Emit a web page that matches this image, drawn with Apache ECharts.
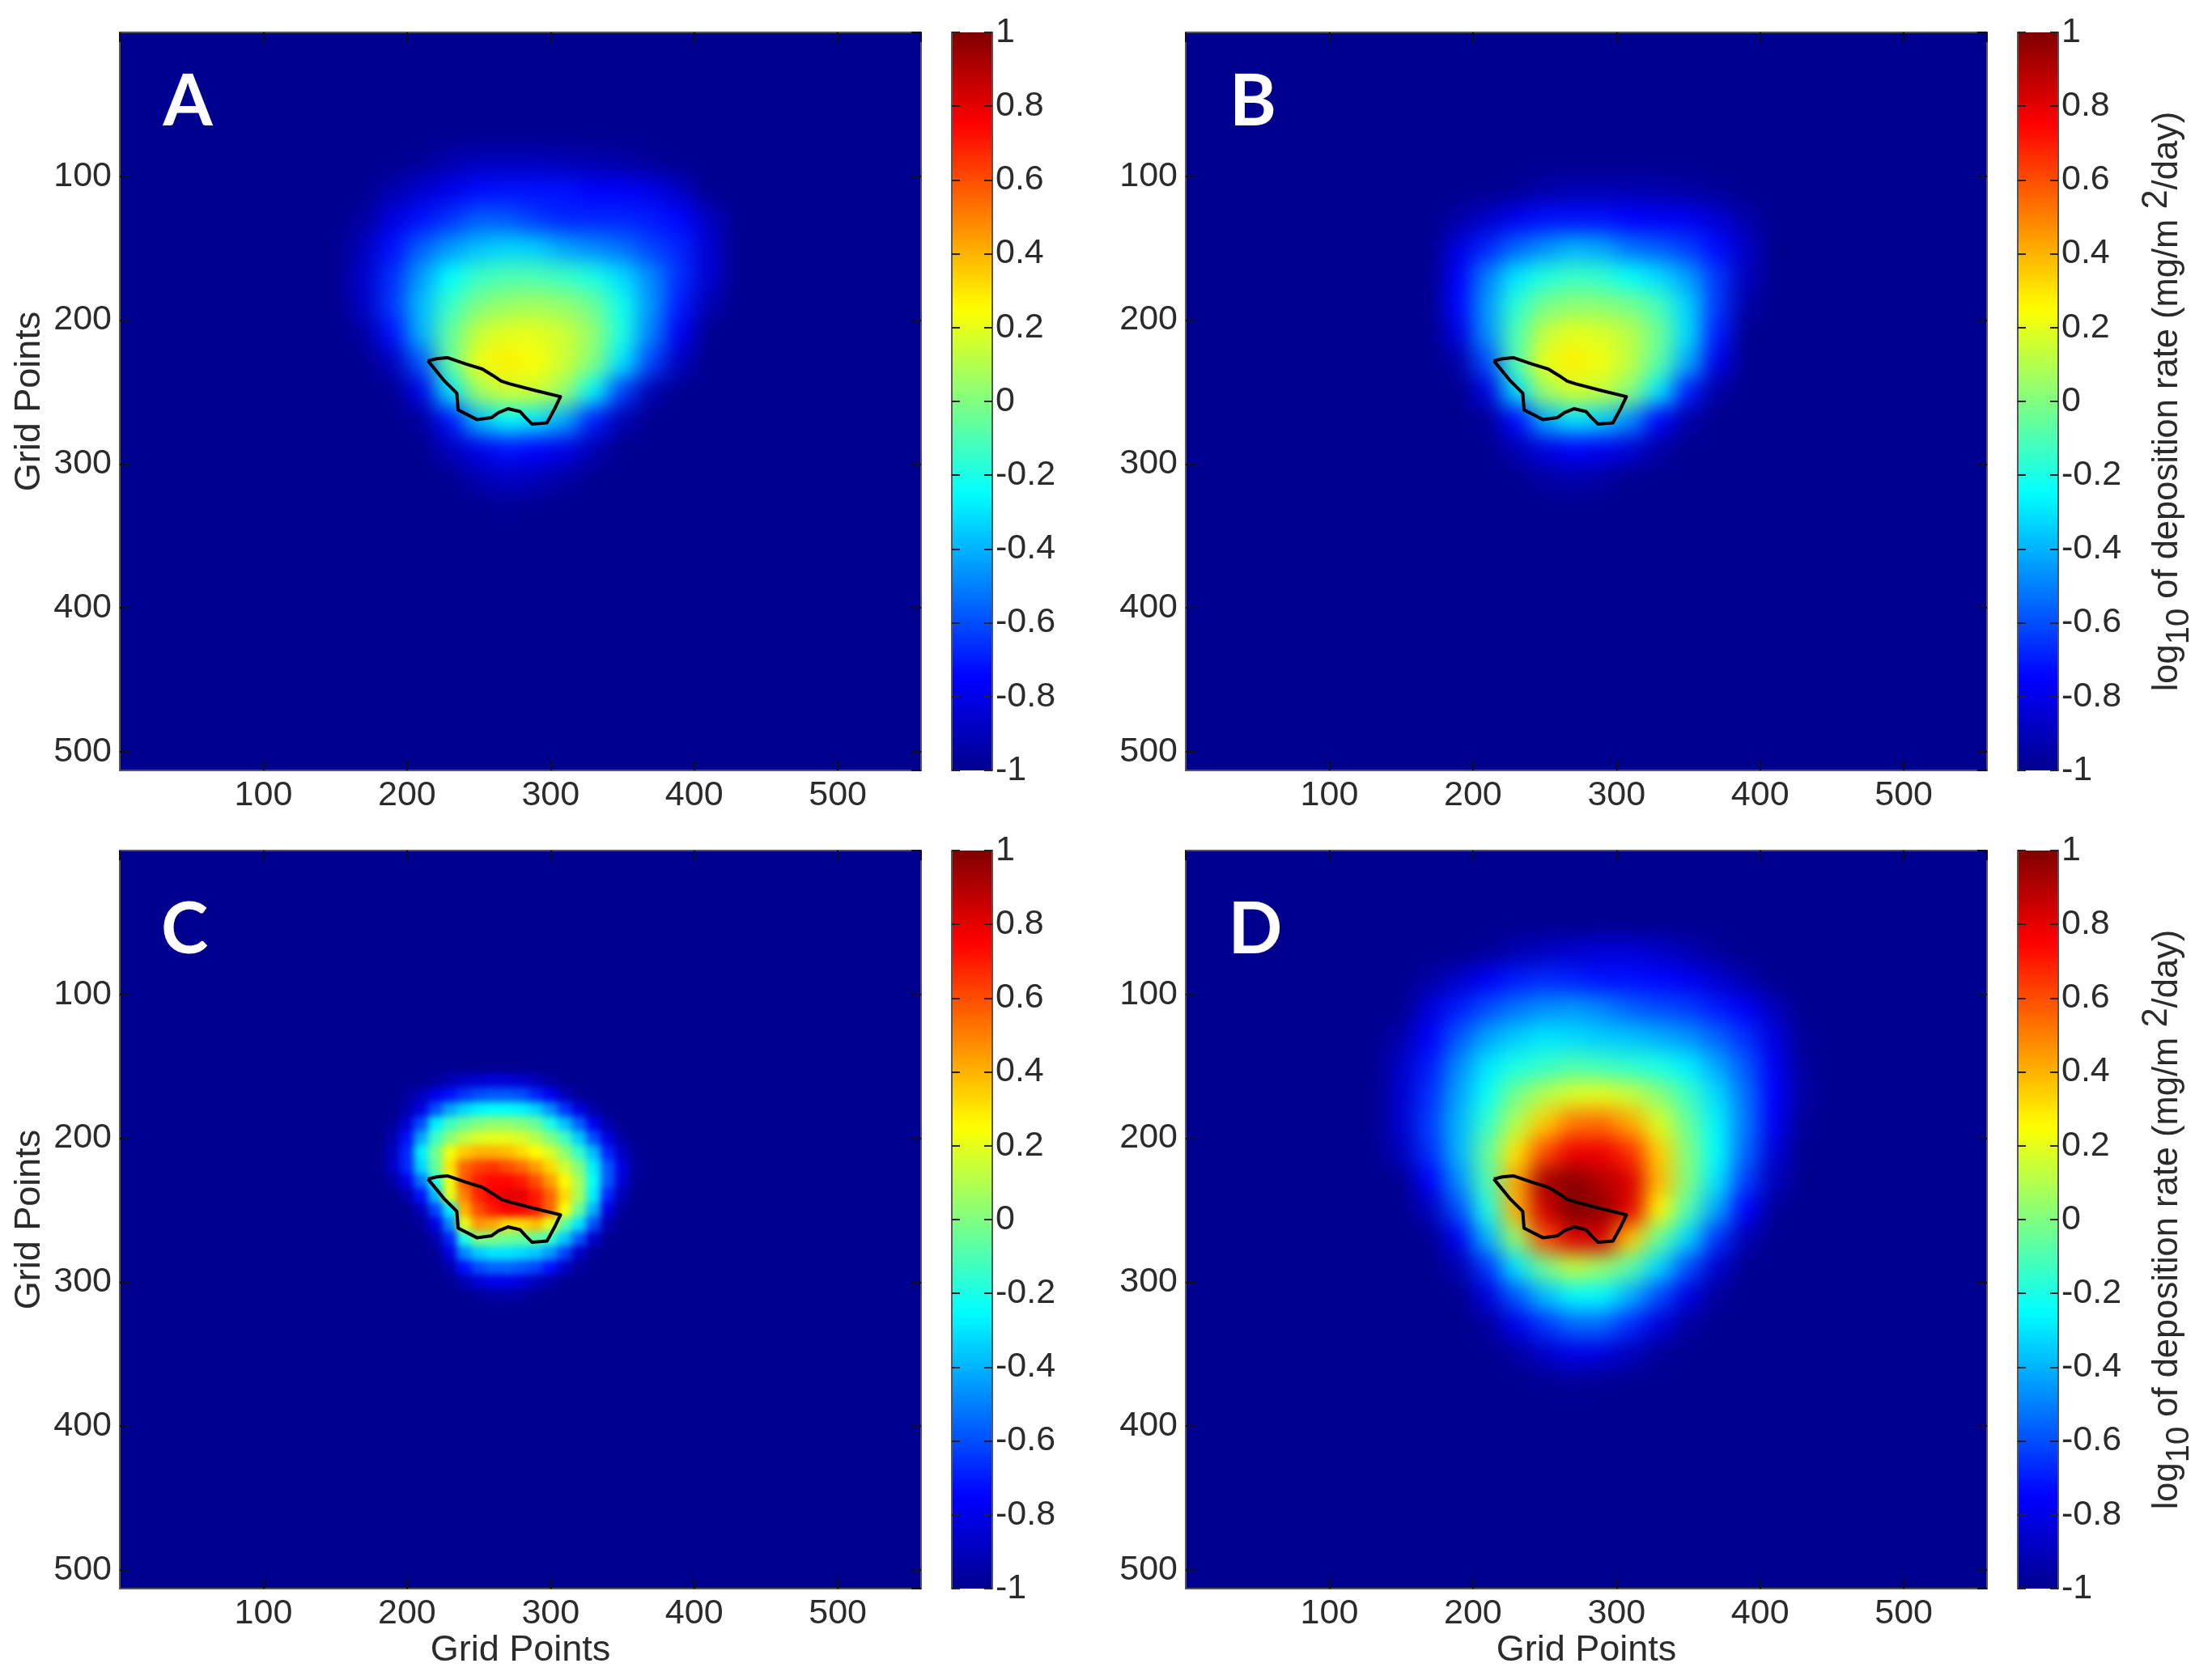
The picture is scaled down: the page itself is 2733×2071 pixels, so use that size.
<!DOCTYPE html>
<html><head><meta charset="utf-8">
<style>
html,body{margin:0;padding:0;background:#fff}
#c{width:2733px;height:2071px}
canvas[data-zr-dom-id="zr_1"]{filter:blur(13px)}
canvas[data-zr-dom-id="zr_2"]{filter:blur(5px)}
canvas[data-zr-dom-id="zr_3"]{filter:blur(.7px)}
</style>
<script src="https://cdn.jsdelivr.net/npm/echarts@6/dist/echarts.min.js"></script>
</head><body><div id="c"></div>
<script>
const xCells=[150,170,190,210,230,250,270,290,310,330,350,370,390,410,430];
const yCells=[70,90,110,130,150,170,190,210,230,250,270,290,310,330,350,370];
const xCellsC=[190,200,210,220,230,240,250,260,270,280,290,300,310,320,330,340,350,360];
const yCellsC=[160,170,180,190,200,210,220,230,240,250,260,270,280,290,300,310];
const panelA=[
[-1,-1,-1,-1,-1,-1,-1,-1,-1,-1,-1,-1,-1,-1,-1],
[-1,-1,-1,-.98,-.93,-.9,-.9,-.9,-.92,-.93,-.95,-.98,-1,-1,-1],
[-1,-1,-.93,-.86,-.8,-.73,-.72,-.72,-.72,-.76,-.76,-.8,-.88,-1,-1],
[-1,-.96,-.82,-.72,-.65,-.57,-.58,-.64,-.68,-.68,-.68,-.7,-.74,-.88,-1],
[-1,-.9,-.72,-.56,-.45,-.37,-.33,-.35,-.43,-.48,-.53,-.62,-.68,-.85,-1],
[-1,-.87,-.66,-.44,-.25,-.14,-.1,-.1,-.14,-.2,-.32,-.48,-.66,-.85,-1],
[-1,-.88,-.64,-.38,-.14,0,.05,.07,.04,-.04,-.22,-.46,-.7,-.92,-1],
[-1,-.96,-.72,-.4,-.06,.14,.2,.2,.15,.04,-.2,-.5,-.78,-1,-1],
[-1,-1,-.9,-.58,-.06,.22,.28,.24,.15,0,-.3,-.62,-.9,-1,-1],
[-1,-1,-1,-.8,-.3,.06,.16,.15,.04,-.26,-.63,-.93,-1,-1,-1],
[-1,-1,-1,-.97,-.72,-.38,-.25,-.3,-.42,-.7,-.92,-1,-1,-1,-1],
[-1,-1,-1,-1,-.9,-.8,-.72,-.75,-.8,-.92,-1,-1,-1,-1,-1],
[-1,-1,-1,-1,-1,-.92,-.88,-.9,-.95,-1,-1,-1,-1,-1,-1],
[-1,-1,-1,-1,-1,-1,-.98,-1,-1,-1,-1,-1,-1,-1,-1],
[-1,-1,-1,-1,-1,-1,-1,-1,-1,-1,-1,-1,-1,-1,-1],
[-1,-1,-1,-1,-1,-1,-1,-1,-1,-1,-1,-1,-1,-1,-1]];
const panelB=[
[-1,-1,-1,-1,-1,-1,-1,-1,-1,-1,-1,-1,-1,-1,-1],
[-1,-1,-1,-1,-1,-1,-1,-1,-1,-1,-1,-1,-1,-1,-1],
[-1,-1,-1,-1,-.98,-.94,-.92,-.92,-.92,-.93,-.95,-.98,-1,-1,-1],
[-1,-1,-.95,-.87,-.78,-.72,-.72,-.72,-.75,-.77,-.78,-.84,-.94,-1,-1],
[-1,-1,-.82,-.68,-.55,-.47,-.4,-.43,-.53,-.57,-.63,-.73,-.88,-1,-1],
[-1,-1,-.76,-.5,-.3,-.19,-.14,-.16,-.24,-.32,-.44,-.64,-.9,-1,-1],
[-1,-1,-.74,-.45,-.17,-.02,.03,.02,-.02,-.12,-.34,-.64,-.94,-1,-1],
[-1,-1,-.82,-.47,-.1,.13,.2,.18,.11,-.04,-.32,-.7,-1,-1,-1],
[-1,-1,-.95,-.6,-.1,.21,.28,.22,.12,-.08,-.42,-.8,-1,-1,-1],
[-1,-1,-1,-.82,-.32,.05,.16,.13,.01,-.3,-.7,-.96,-1,-1,-1],
[-1,-1,-1,-.98,-.74,-.42,-.3,-.35,-.48,-.75,-.95,-1,-1,-1,-1],
[-1,-1,-1,-1,-.92,-.82,-.75,-.78,-.84,-.95,-1,-1,-1,-1,-1],
[-1,-1,-1,-1,-1,-.95,-.93,-.95,-1,-1,-1,-1,-1,-1,-1],
[-1,-1,-1,-1,-1,-1,-1,-1,-1,-1,-1,-1,-1,-1,-1],
[-1,-1,-1,-1,-1,-1,-1,-1,-1,-1,-1,-1,-1,-1,-1],
[-1,-1,-1,-1,-1,-1,-1,-1,-1,-1,-1,-1,-1,-1,-1]];
const panelC=[
[-1,-1,-1,-.97,-.92,-.88,-.85,-.84,-.84,-.86,-.9,-.96,-1,-1,-1,-1,-1,-1],
[-1,-.97,-.9,-.8,-.72,-.65,-.6,-.58,-.58,-.6,-.68,-.78,-.9,-.98,-1,-1,-1,-1],
[-1,-.93,-.82,-.6,-.43,-.33,-.27,-.25,-.25,-.27,-.33,-.47,-.65,-.82,-.95,-1,-1,-1],
[-.97,-.85,-.6,-.28,-.13,-.05,0,.03,.03,0,-.05,-.2,-.37,-.56,-.78,-.93,-1,-1],
[-.93,-.72,-.42,-.13,.02,.12,.18,.2,.2,.17,.1,0,-.13,-.35,-.6,-.82,-.95,-1],
[-.9,-.68,-.28,-.03,.22,.35,.4,.4,.38,.32,.25,.17,.03,-.15,-.38,-.68,-.88,-.98],
[-.88,-.68,-.33,-.05,.3,.55,.62,.65,.6,.54,.44,.32,.15,0,-.28,-.58,-.82,-.97],
[-.95,-.8,-.52,-.2,.22,.58,.7,.74,.74,.7,.6,.44,.26,.07,-.24,-.58,-.84,-.98],
[-1,-.93,-.72,-.38,.2,.5,.68,.76,.8,.8,.7,.55,.32,.07,-.28,-.68,-.92,-1],
[-1,-1,-.9,-.62,-.28,.4,.6,.7,.76,.76,.7,.55,.24,-.05,-.4,-.82,-.97,-1],
[-1,-1,-.97,-.82,-.48,.2,.45,.42,.32,.32,.38,.2,-.08,-.3,-.6,-.93,-1,-1],
[-1,-1,-1,-.93,-.68,-.2,0,0,-.03,-.05,-.07,-.15,-.35,-.58,-.87,-1,-1,-1],
[-1,-1,-1,-.98,-.82,-.48,-.35,-.3,-.3,-.32,-.36,-.45,-.62,-.88,-.98,-1,-1,-1],
[-1,-1,-1,-1,-.93,-.72,-.6,-.55,-.55,-.58,-.62,-.72,-.88,-.97,-1,-1,-1,-1],
[-1,-1,-1,-1,-.99,-.92,-.85,-.8,-.8,-.83,-.9,-.95,-1,-1,-1,-1,-1,-1],
[-1,-1,-1,-1,-1,-1,-.98,-.95,-.95,-.96,-.99,-1,-1,-1,-1,-1,-1,-1]];
const panelD=[
[-1,-1,-1,-.98,-.93,-.89,-.86,-.84,-.84,-.87,-.92,-.97,-1,-1,-1],
[-1,-.95,-.87,-.77,-.7,-.67,-.69,-.72,-.72,-.74,-.78,-.85,-.93,-1,-1],
[-1,-.83,-.7,-.6,-.52,-.47,-.45,-.49,-.56,-.6,-.63,-.7,-.77,-.9,-1],
[-.93,-.76,-.58,-.43,-.35,-.3,-.32,-.35,-.37,-.41,-.46,-.55,-.66,-.82,-.98],
[-.88,-.7,-.48,-.3,-.2,-.15,-.1,-.13,-.16,-.2,-.28,-.42,-.58,-.78,-.97],
[-.86,-.66,-.43,-.23,-.02,.1,.18,.2,.14,.02,-.13,-.32,-.53,-.76,-.95],
[-.86,-.63,-.4,-.15,.1,.35,.52,.54,.42,.18,-.05,-.27,-.52,-.77,-.98],
[-.9,-.66,-.4,-.06,.3,.6,.78,.78,.66,.34,0,-.25,-.55,-.84,-1],
[-1,-.76,-.47,-.1,.42,.92,.98,.9,.82,.38,0,-.3,-.63,-.9,-1],
[-1,-.9,-.6,-.2,.4,.84,1,.96,.8,.26,-.1,-.43,-.75,-.98,-1],
[-1,-1,-.78,-.4,.04,.6,.82,.82,.35,-.05,-.33,-.65,-.92,-1,-1],
[-1,-1,-.93,-.65,-.3,-.03,.13,.05,-.08,-.33,-.6,-.86,-1,-1,-1],
[-1,-1,-1,-.83,-.58,-.38,-.26,-.26,-.41,-.61,-.82,-.97,-1,-1,-1],
[-1,-1,-1,-.97,-.8,-.65,-.55,-.55,-.67,-.83,-.96,-1,-1,-1,-1],
[-1,-1,-1,-1,-.96,-.87,-.8,-.82,-.9,-.98,-1,-1,-1,-1,-1],
[-1,-1,-1,-1,-1,-.99,-.98,-.99,-1,-1,-1,-1,-1,-1,-1]];
const outlineX=[214.6,220.6,228.1,241.2,252.5,260,265.6,271.2,288.1,306.9,303.1,297.5,287.2,282.5,278.7,270.3,263.7,259,248.7,235.6,234.7,226.2,214.6];
const outlineY=[228.3,226.8,226.1,230.6,234,238.6,242.4,244.2,248.6,253.2,261.1,271.4,272.3,267.7,263.5,261.6,264.3,267.7,269.1,262.4,250.8,242.4,228.3];
const panelLetters=['A','B','C','D'];
const panelValues=[panelA,panelB,panelC,panelD];
const panelXs=[xCells,xCells,xCellsC,xCells];
const panelYs=[yCells,yCells,yCellsC,yCells];
const jetColors=['#00008F','#0000FF','#0080FF','#00FFFF','#80FF80','#FFFF00','#FF8000','#FF0000','#800000'];
const axisTitle='Grid Points';

const FS=43, TFS=45, INK='#2b2b2b', FRAME='#555', TOP=3;
const PW=990, PH=912, CW=50;
const lefts=[148,1465], tops=[40,1051];
const letterPos=[[232,127],[1548,127],[228,1150],[1551,1150]];
const font='"Liberation Sans",Arial,sans-serif';

const grid=[],xAxis=[],yAxis=[],series=[],visualMap=[],title=[];
function plotAxis(base,extra){return Object.assign({type:'value',zlevel:TOP,splitLine:{show:false},
  axisLine:{show:true,onZero:false,lineStyle:{color:FRAME,width:2}},
  axisTick:{show:true,inside:true,length:12,lineStyle:{color:'#111',width:2}},
  axisLabel:{show:false}},base,extra||{});}
const labelOn={show:true,color:INK,fontSize:FS,fontFamily:font,showMinLabel:false,showMaxLabel:false,margin:10,
  formatter:v=>(v%100===0&&v>0)?String(v):''};

panelLetters.forEach((L,i)=>{
  const col=i%2,row=i>>1,left=lefts[col],top=tops[row];
  const g=grid.length;
  grid.push({left,top,width:PW,height:PH,show:true,backgroundColor:'#00008F',borderWidth:0});
  const xb={gridIndex:g,min:0,max:558,interval:100};
  const x0=xAxis.length;
  xAxis.push(plotAxis(xb,Object.assign({position:'bottom',axisLabel:labelOn},row===1?{name:axisTitle,nameLocation:'middle',nameGap:54,nameTextStyle:{color:INK,fontSize:TFS,fontFamily:font}}:{})));
  xAxis.push(plotAxis(xb,{position:'top'}));
  const yb={gridIndex:g,min:0,max:513,interval:100,inverse:true};
  const y0=yAxis.length;
  yAxis.push(plotAxis(yb,Object.assign({position:'left',axisLabel:labelOn},col===0?{name:axisTitle,nameLocation:'middle',nameGap:89,nameRotate:90,nameTextStyle:{color:INK,fontSize:TFS,fontFamily:font}}:{})));
  yAxis.push(plotAxis(yb,{position:'right'}));

  const xs=panelXs[i], ys=panelYs[i], half=(xs[1]-xs[0])/2, data=[];
  panelValues[i].forEach((r,ry)=>r.forEach((v,cx)=>{if(v>-1)data.push([xs[cx],ys[ry],v]);}));
  series.push({type:'custom',name:L,xAxisIndex:x0,yAxisIndex:y0,zlevel:half===5?2:1,data,clip:true,animation:false,progressive:0,silent:true,
    encode:{x:0,y:1},
    renderItem(params,api){
      const a=api.coord([api.value(0)-half,api.value(1)-half]),b=api.coord([api.value(0)+half,api.value(1)+half]);
      return {type:'rect',shape:{x:Math.min(a[0],b[0])-.5,y:Math.min(a[1],b[1])-.5,width:Math.abs(b[0]-a[0])+1,height:Math.abs(b[1]-a[1])+1},style:{fill:api.visual('color')}};
    }});

  const cLeft=left+1028;
  visualMap.push({type:'continuous',min:-1,max:1,dimension:2,seriesIndex:i,left:cLeft,top,itemWidth:CW,itemHeight:PH,padding:0,
    calculable:false,hoverLink:false,inRange:{color:jetColors}});
  const cg=grid.length;
  grid.push({left:cLeft,top,width:CW,height:PH});
  xAxis.push({type:'value',gridIndex:cg,min:0,max:1,show:false});
  const cb={type:'value',gridIndex:cg,min:-1,max:1,interval:.2,zlevel:TOP,splitLine:{show:false},
    axisLine:{show:true,onZero:false,lineStyle:{color:FRAME,width:2}},axisTick:{show:true,inside:true,length:10,lineStyle:{color:'#222',width:2}}};
  yAxis.push(Object.assign({},cb,{position:'right',
    axisLabel:{show:true,color:INK,fontSize:FS,fontFamily:font,margin:4,formatter:v=>String(Math.round(v*10)/10)}},
    col===1?{name:'{a|log}{s|10}{a| of deposition rate (mg/m }{u|2}{a|/day)}',nameLocation:'middle',nameGap:100,nameRotate:90,
      nameTextStyle:{rich:{a:{fontSize:43.5,fontFamily:font,color:INK,lineHeight:70,verticalAlign:'middle'},
        s:{fontSize:40,fontFamily:font,color:INK,lineHeight:70,verticalAlign:'bottom'},
        u:{fontSize:43.5,fontFamily:font,color:INK,lineHeight:70,verticalAlign:'top'}}}}:{}));
  yAxis.push(Object.assign({},cb,{position:'left',axisLabel:{show:false}}));
  title.push({text:L,left:letterPos[i][0],top:letterPos[i][1]-52,textAlign:'center',zlevel:TOP,padding:0,
    textStyle:{color:'#fff',fontFamily:'Lato,sans-serif',fontWeight:'bold',fontSize:88,lineHeight:104}});
});
panelLetters.forEach((L,i)=>{
  series.push({type:'line',xAxisIndex:i*3,yAxisIndex:i*4,zlevel:TOP,silent:true,animation:false,showSymbol:false,symbol:'none',
    data:outlineX.map((x,k)=>[x,outlineY[k]]),lineStyle:{color:'#000',width:4,join:'round'}});
});
const chart=echarts.init(document.getElementById('c'),null,{renderer:'canvas'});
chart.setOption({animation:false,backgroundColor:'#fff',title,grid,xAxis,yAxis,visualMap,series});
</script></body></html>
